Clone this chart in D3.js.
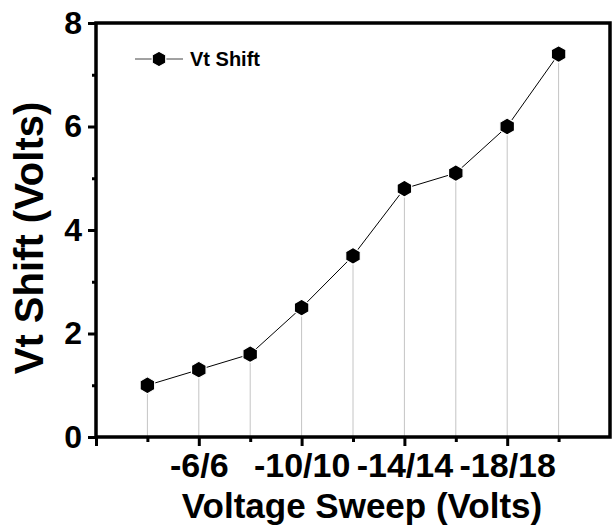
<!DOCTYPE html>
<html>
<head>
<meta charset="utf-8">
<script src="https://cdn.jsdelivr.net/npm/d3@7"></script>
<style>
  html, body { margin: 0; padding: 0; background: #fff; }
  svg { display: block; }
  text { font-family: "Liberation Sans", Arial, sans-serif; font-weight: bold; fill: #000; }
</style>
</head>
<body>
<svg id="chart" width="614" height="527"></svg>
<script>
// ---- data ----
const categories = ["-4/4", "-6/6", "-8/8", "-10/10", "-12/12", "-14/14", "-16/16", "-18/18", "-20/20"];
const vtShift = [1.0, 1.3, 1.6, 2.5, 3.5, 4.8, 5.1, 6.0, 7.4];
const xTickLabels = ["-6/6", "-10/10", "-14/14", "-18/18"];
const yMajorTicks = [0, 2, 4, 6, 8];
const yMinorTicks = [1, 3, 5, 7];
const seriesName = "Vt Shift";

// ---- layout ----
const svg = d3.select("#chart");
const pLeft = 96, pRight = 610, pTop = 23, pBottom = 437;

const x = d3.scaleLinear().domain([0, categories.length + 1]).range([pLeft, pRight]);
const y = d3.scaleLinear().domain([0, 8]).range([pBottom, pTop]);

const points = categories.map((c, i) => ({ c, pos: i + 1, v: vtShift[i] }));
const labelPos = xTickLabels.map(l => categories.indexOf(l) + 1);

// drop lines
svg.append("g").selectAll("line").data(points).join("line")
  .attr("x1", d => x(d.pos)).attr("x2", d => x(d.pos))
  .attr("y1", d => y(d.v)).attr("y2", y(0))
  .attr("stroke", "#c4c4c4").attr("stroke-width", 1);

// connecting line
svg.append("path").datum(points)
  .attr("fill", "none").attr("stroke", "#000").attr("stroke-width", 1)
  .attr("d", d3.line().x(d => x(d.pos)).y(d => y(d.v)));

// hexagon path (pointy top)
function hexPath(r) {
  const pts = d3.range(6).map(k => {
    const a = Math.PI / 2 + k * Math.PI / 3;
    return [r * Math.cos(a), r * Math.sin(a)];
  });
  return "M" + pts.map(p => p.join(",")).join("L") + "Z";
}

svg.append("g").selectAll("path").data(points).join("path")
  .attr("transform", d => `translate(${x(d.pos)},${y(d.v)})`)
  .attr("d", hexPath(8.4))
  .attr("fill", "#000").attr("stroke", "#fff").attr("stroke-width", 1.2);

// ---- axes ----
const yAxisMajor = d3.axisLeft(y).tickValues(yMajorTicks).tickSize(8).tickPadding(6).tickFormat(d3.format("d"));
const yAxisMinor = d3.axisLeft(y).tickValues(yMinorTicks).tickSize(4).tickFormat("");
const xAxisMajor = d3.axisBottom(x).tickValues([0].concat(labelPos)).tickSize(9)
  .tickFormat(d => { const i = labelPos.indexOf(d); return i >= 0 ? xTickLabels[i] : ""; });
const xAxisMinor = d3.axisBottom(x).tickValues(points.map(p => p.pos).filter(p => labelPos.indexOf(p) < 0)).tickSize(5).tickFormat("");

function styleAxis(g) {
  g.select(".domain").remove();
  g.selectAll(".tick line").attr("stroke", "#000").attr("stroke-width", 3);
}

svg.append("g").attr("transform", `translate(${pLeft},0)`).call(yAxisMinor).call(styleAxis);
const gy = svg.append("g").attr("transform", `translate(${pLeft},0)`).call(yAxisMajor).call(styleAxis);
gy.attr("font-family", null).attr("font-size", null);
gy.selectAll("text").style("font-size", "32px");

svg.append("g").attr("transform", `translate(0,${pBottom})`).call(xAxisMinor).call(styleAxis);
const gx = svg.append("g").attr("transform", `translate(0,${pBottom})`).call(xAxisMajor).call(styleAxis);
gx.attr("font-family", null).attr("font-size", null);
gx.selectAll("text").style("font-size", "34px").attr("y", 40).attr("dy", 0);

// frame
svg.append("rect")
  .attr("x", pLeft).attr("y", pTop).attr("width", pRight - pLeft).attr("height", pBottom - pTop)
  .attr("fill", "none").attr("stroke", "#000").attr("stroke-width", 3.5);

// axis titles
svg.append("text")
  .attr("x", 362).attr("y", 518).attr("text-anchor", "middle")
  .style("font-size", "35px").text("Voltage Sweep (Volts)");

svg.append("text")
  .attr("transform", "translate(43,238) rotate(-90)").attr("text-anchor", "middle")
  .style("font-size", "40px").text("Vt Shift (Volts)");

// legend
const lg = svg.append("g");
lg.append("line").attr("x1", 135).attr("x2", 183).attr("y1", 59).attr("y2", 59)
  .attr("stroke", "#444").attr("stroke-width", 1);
lg.append("path").attr("transform", "translate(159,59)").attr("d", hexPath(7.8))
  .attr("fill", "#000").attr("stroke", "#fff").attr("stroke-width", 1.2);
lg.append("text").attr("x", 190).attr("y", 66).style("font-size", "20px").text(seriesName);
</script>
</body>
</html>
